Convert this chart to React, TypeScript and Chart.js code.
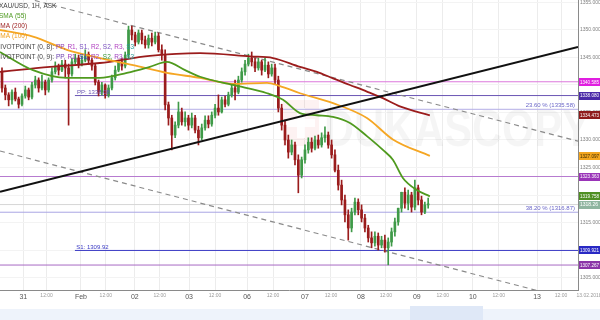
import React, { useEffect, useRef } from "react";
import { Chart, registerables } from "chart.js";

Chart.register(...registerables);

const FONT = '"Liberation Sans", Arial, sans-serif';

// Hourly candles: [open, high, low, close]
const candles: number[][] = [
  [1342.4, 1343.1, 1338.7, 1339.45],
  [1339.45, 1340.0, 1337.3, 1338.2],
  [1338.2, 1338.6, 1336.2, 1337.3],
  [1337.3, 1339.1, 1336.5, 1338.7],
  [1338.7, 1339.45, 1337.1, 1337.45],
  [1337.45, 1337.8, 1335.8, 1336.5],
  [1336.5, 1338.4, 1336.2, 1338.0],
  [1338.0, 1339.8, 1337.6, 1339.1],
  [1339.1, 1339.45, 1337.3, 1337.8],
  [1337.8, 1340.5, 1337.45, 1340.0],
  [1340.0, 1341.6, 1339.45, 1340.9],
  [1340.9, 1341.3, 1338.7, 1339.45],
  [1339.45, 1341.8, 1339.1, 1340.5],
  [1340.5, 1340.9, 1338.2, 1339.1],
  [1339.1, 1341.3, 1338.7, 1340.9],
  [1340.9, 1343.1, 1340.5, 1342.4],
  [1342.4, 1344.2, 1342.0, 1343.45],
  [1343.45, 1343.8, 1341.8, 1342.7],
  [1342.7, 1344.5, 1342.4, 1343.8],
  [1343.8, 1344.5, 1341.3, 1343.1],
  [1343.1, 1343.8, 1332.7, 1342.0],
  [1342.0, 1344.9, 1341.6, 1344.2],
  [1344.2, 1345.6, 1343.8, 1344.9],
  [1344.9, 1345.45, 1343.1, 1343.8],
  [1343.8, 1345.3, 1343.45, 1344.5],
  [1344.5, 1346.4, 1344.2, 1345.6],
  [1345.6, 1346.0, 1343.8, 1344.5],
  [1344.5, 1344.9, 1342.7, 1343.45],
  [1343.45, 1343.8, 1340.0, 1340.5],
  [1340.5, 1340.9, 1338.0, 1338.7],
  [1338.7, 1340.5, 1338.2, 1340.0],
  [1340.0, 1340.2, 1337.6, 1338.2],
  [1338.2, 1340.0, 1337.8, 1339.45],
  [1339.45, 1341.8, 1339.1, 1341.3],
  [1341.3, 1343.45, 1340.9, 1342.7],
  [1342.7, 1344.5, 1342.4, 1344.2],
  [1344.2, 1344.9, 1342.7, 1343.45],
  [1343.45, 1346.0, 1343.1, 1345.45],
  [1345.45, 1350.7, 1344.9, 1350.0],
  [1350.0, 1350.7, 1348.2, 1349.1],
  [1349.1, 1349.6, 1347.1, 1347.8],
  [1347.8, 1350.0, 1347.45, 1349.45],
  [1349.45, 1350.0, 1347.45, 1348.2],
  [1348.2, 1348.9, 1346.7, 1347.3],
  [1347.3, 1349.1, 1346.7, 1348.5],
  [1348.5, 1349.45, 1347.1, 1347.8],
  [1347.8, 1349.6, 1347.45, 1348.9],
  [1348.9, 1349.45, 1346.0, 1346.4],
  [1346.4, 1347.3, 1344.5, 1345.45],
  [1345.45, 1346.4, 1335.45, 1336.4],
  [1336.4, 1336.9, 1332.7, 1334.0],
  [1334.0, 1334.5, 1328.2, 1330.9],
  [1330.9, 1333.3, 1330.4, 1332.7],
  [1332.7, 1336.9, 1332.2, 1335.1],
  [1335.1, 1335.8, 1332.7, 1333.3],
  [1333.3, 1335.1, 1332.5, 1334.0],
  [1334.0, 1334.5, 1331.8, 1332.7],
  [1332.7, 1334.9, 1332.2, 1334.0],
  [1334.0, 1334.5, 1331.3, 1331.8],
  [1331.8, 1332.5, 1329.1, 1330.4],
  [1330.4, 1332.9, 1330.0, 1332.2],
  [1332.2, 1334.4, 1331.8, 1333.6],
  [1333.6, 1334.4, 1332.2, 1332.9],
  [1332.9, 1335.1, 1332.5, 1334.5],
  [1334.5, 1336.5, 1334.0, 1335.8],
  [1335.8, 1338.2, 1334.5, 1335.1],
  [1335.1, 1337.8, 1334.9, 1337.3],
  [1337.3, 1338.0, 1336.0, 1336.5],
  [1336.5, 1338.7, 1336.2, 1338.2],
  [1338.2, 1340.2, 1337.8, 1339.45],
  [1339.45, 1340.9, 1337.3, 1338.7],
  [1338.7, 1341.6, 1338.4, 1340.9],
  [1340.9, 1343.1, 1340.5, 1342.4],
  [1342.4, 1344.5, 1341.8, 1343.8],
  [1343.8, 1345.6, 1343.45, 1344.9],
  [1344.9, 1346.0, 1343.45, 1344.2],
  [1344.2, 1344.9, 1342.4, 1343.1],
  [1343.1, 1344.9, 1342.7, 1344.2],
  [1344.2, 1344.5, 1341.8, 1342.7],
  [1342.7, 1344.9, 1342.4, 1343.6],
  [1343.6, 1344.2, 1341.3, 1342.0],
  [1342.0, 1343.8, 1341.6, 1343.1],
  [1343.1, 1343.8, 1340.2, 1340.9],
  [1340.9, 1341.6, 1335.1, 1335.8],
  [1335.8, 1336.5, 1331.8, 1332.7],
  [1332.7, 1333.6, 1329.1, 1330.0],
  [1330.0, 1330.9, 1326.7, 1327.8],
  [1327.8, 1330.0, 1327.3, 1329.1],
  [1329.1, 1329.6, 1325.45, 1326.4],
  [1326.4, 1327.3, 1320.4, 1323.6],
  [1323.6, 1326.9, 1323.1, 1326.4],
  [1326.4, 1329.1, 1325.8, 1328.2],
  [1328.2, 1330.4, 1327.6, 1329.6],
  [1329.6, 1330.4, 1327.8, 1328.5],
  [1328.5, 1330.7, 1328.2, 1330.0],
  [1330.0, 1330.9, 1328.5, 1329.1],
  [1329.1, 1331.3, 1328.7, 1330.4],
  [1330.4, 1332.4, 1329.6, 1330.9],
  [1330.9, 1331.45, 1328.5, 1329.1],
  [1329.1, 1330.0, 1326.7, 1327.3],
  [1327.3, 1328.2, 1324.2, 1324.5],
  [1324.5, 1325.45, 1320.9, 1321.8],
  [1321.8, 1322.7, 1318.2, 1319.1],
  [1319.1, 1320.0, 1315.1, 1316.4],
  [1316.4, 1317.3, 1311.8, 1314.0],
  [1314.0, 1317.6, 1313.3, 1316.9],
  [1316.9, 1319.45, 1316.4, 1318.7],
  [1318.7, 1319.3, 1316.4, 1317.3],
  [1317.3, 1318.2, 1315.1, 1315.8],
  [1315.8, 1316.5, 1313.3, 1314.0],
  [1314.0, 1314.5, 1311.45, 1312.2],
  [1312.2, 1313.3, 1310.4, 1311.3],
  [1311.3, 1313.3, 1310.7, 1312.5],
  [1312.5, 1313.1, 1310.0, 1310.9],
  [1310.9, 1312.5, 1310.4, 1311.8],
  [1311.8, 1312.7, 1309.6, 1310.4],
  [1310.4, 1312.2, 1307.3, 1311.45],
  [1311.45, 1314.0, 1310.7, 1313.3],
  [1313.3, 1315.8, 1312.5, 1315.1],
  [1315.1, 1317.6, 1314.5, 1317.6],
  [1317.6, 1320.5, 1316.9, 1320.5],
  [1320.5, 1321.3, 1317.6, 1318.5],
  [1318.5, 1320.9, 1317.3, 1320.0],
  [1320.0, 1320.5, 1316.9, 1317.8],
  [1317.8, 1322.7, 1317.3, 1321.3],
  [1321.3, 1321.8, 1318.2, 1319.1],
  [1319.1, 1319.8, 1316.4, 1316.9],
  [1316.9, 1318.7, 1316.6, 1318.2],
  [1318.2, 1319.45, 1317.6, 1318.3],
];

// Moving averages (x = candle index, y = price)
const sma55X = [-0.6, 9.3, 19.5, 29.4, 37.5, 44.4, 49.5, 55, 59.5, 69.4, 79.6, 84.4, 89.5, 94.6, 99.4, 104.5, 109.6, 114.4, 117.4, 120.4, 124.6, 128.5];
const sma55Y = [1346.0, 1342.7, 1341.3, 1341.3, 1342.2, 1343.3, 1344.2, 1342.7, 1341.5, 1340.0, 1338.5, 1337.3, 1334.9, 1334.5, 1334.2, 1333.1, 1330.7, 1328.2, 1326.4, 1323.1, 1320.9, 1319.76];
const sma100X = [-0.6, 9.3, 19.5, 29.4, 39.4, 49.5, 59.5, 69.4, 79.6, 83.5, 89.5, 99.4, 109.6, 117.4, 128.5];
const sma100Y = [1350.0, 1348.8, 1346.4, 1344.9, 1343.6, 1342.2, 1341.3, 1340.2, 1340.4, 1339.8, 1338.5, 1336.7, 1334.0, 1330.1, 1327.1];
const sma200X = [-0.6, 14.4, 29.4, 44.4, 59.5, 74.5, 81.4, 89.5, 94.6, 99.4, 104.5, 109.6, 114.4, 119.5, 128.5];
const sma200Y = [1342.4, 1343.3, 1344.0, 1345.3, 1345.8, 1345.2, 1344.9, 1343.3, 1342.4, 1341.2, 1340.0, 1338.8, 1337.6, 1336.1, 1334.47];

// Trend lines: [x1, y1, x2, y2]
const supportLine = [-0.6, 1320.6, 173, 1346.9];
const channelUpper = [-0.6, 1357.0, 173, 1329.8];
const channelLower = [-0.6, 1328.0, 173, 1300.7];

// Horizontal levels
const levelValues = [1340.585, 1338.08, 1335.58, 1323.363, 1318.26, 1316.87, 1309.92, 1307.267];
const levelStarts = [-0.6, 21.9, -0.6, -0.6, -0.6, -0.6, 21.9, -0.6];
const levelColors = ["#dc78dc", "#6a55b4", "#b4aee6", "#b77bd0", "#d6d6d6", "#aaa6e4", "#3a3ac4", "#a86ac4"];

// Price tags on the right axis
const tagValues = [1340.585, 1338.08, 1334.473, 1327.097, 1323.363, 1319.758, 1318.26, 1309.921, 1307.267];
const tagLabels = ["1340.585", "1338.080", "1334.473", "1327.097", "1323.363", "1319.758", "1318.26", "1309.921", "1307.267"];
const tagColors = ["#e01ee0", "#4a2aa8", "#8e1c1c", "#f2a51f", "#9a34b8", "#4f8f22", "#8fb5a0", "#2828c4", "#8a34a8"];
const tagTextColors = ["#fff", "#fff", "#fff", "#3a2a00", "#fff", "#fff", "#fff", "#fff", "#fff"];

// Axis ticks
const yTickValues = [1305, 1310, 1315, 1320, 1325, 1330, 1335, 1340, 1345, 1350, 1355];
const tickIdx = [6.4, 13.4, 23.7, 31.2, 39.9, 47.4, 56.2, 64.0, 73.6, 81.4, 91.0, 98.8, 107.8, 115.3, 124.6, 132.4, 141.4, 149.2, 160.7, 167.9];
const tickLabels = ["31", "12:00", "Feb", "12:00", "02", "12:00", "03", "12:00", "06", "12:00", "07", "12:00", "08", "12:00", "09", "12:00", "10", "12:00", "13", "12:00"];
const endDateLabel = "13.02.2018";

const X_MIN = -0.6;
const X_MAX = 173;
const Y_MIN = 1302.73;
const Y_MAX = 1355.45;

const legendRows: { parts: [string, string][] }[] = [
  { parts: [["XAU/USD, 1H, ASK", "#444"]] },
  { parts: [["SMA (55)", "#4f9a22"]] },
  { parts: [["SMA (200)", "#9b1c1c"]] },
  { parts: [["SMA (100)", "#f0a020"]] },
  {
    parts: [
      ["PIVOTPOINT (0, 8): ", "#444"], ["PP, ", "#8a3ab0"], ["R1, ", "#b040c0"], ["S1, ", "#7a50c0"],
      ["R2, ", "#b040c0"], ["S2, ", "#7a50c0"], ["R3, ", "#b040c0"], ["S3", "#2a9a9a"],
    ],
  },
  {
    parts: [
      ["PIVOTPOINT (0, 9): ", "#444"], ["PP, ", "#6a40b0"], ["R1, ", "#a040c0"], ["S1, ", "#3a3ac4"],
      ["R2, ", "#a040c0"], ["S2, ", "#3a9a3a"], ["R3, ", "#a040c0"], ["S3", "#2a9a9a"],
    ],
  },
];
const legendOffsets = [-1, -1, -4, -4, -4, -4];

const UP = "#3f9a48";
const DOWN = "#9a1c1c";

function fitText(ctx: CanvasRenderingContext2D, text: string, x: number, y: number, maxW: number) {
  const w = ctx.measureText(text).width;
  if (w <= maxW) {
    ctx.fillText(text, x, y);
    return;
  }
  ctx.save();
  ctx.translate(x, y);
  ctx.scale(maxW / w, 1);
  ctx.fillText(text, 0, 0);
  ctx.restore();
}

const overlayPlugin = {
  id: "overlay",
  beforeDraw(chart: any) {
    const ctx = chart.ctx;
    ctx.save();
    ctx.fillStyle = "#ffffff";
    ctx.fillRect(0, 0, chart.width, chart.height);
    // navigator strip
    ctx.fillStyle = "#eef3fb";
    ctx.fillRect(0, 309, chart.width, 11);
    ctx.fillStyle = "#dfe8f7";
    ctx.fillRect(410, 306, 73, 14);
    ctx.restore();
  },
  beforeDatasetsDraw(chart: any) {
    const ctx = chart.ctx;
    ctx.save();
    // faint watermark logo
    ctx.fillStyle = "rgba(225, 70, 70, 0.07)";
    ctx.fillRect(283, 100, 36, 46);
    ctx.fillStyle = "rgba(255,255,255,0.9)";
    ctx.fillRect(297, 108, 8, 30);
    ctx.fillRect(287, 119, 28, 8);
    ctx.font = `bold 52px ${FONT}`;
    ctx.textBaseline = "alphabetic";
    ctx.textAlign = "left";
    const w = ctx.measureText("DUKASCOPY").width;
    ctx.translate(324, 146);
    ctx.scale(266 / w, 1);
    ctx.fillStyle = "rgba(0,0,0,0.038)";
    ctx.fillText("DUKASCOPY", 0, 0);
    ctx.restore();
  },
  afterDraw(chart: any) {
    const ctx = chart.ctx;
    const ys = chart.scales.y;
    const xs = chart.scales.x;
    const area = chart.chartArea;
    ctx.save();
    // level labels
    ctx.font = `6px ${FONT}`;
    ctx.textBaseline = "bottom";
    ctx.textAlign = "left";
    ctx.fillStyle = "#6a55b4";
    ctx.fillText("PP: 1338.08", xs.getPixelForValue(22.5), ys.getPixelForValue(1338.08) - 0.5);
    ctx.fillStyle = "#3a3ac4";
    ctx.fillText("S1: 1309.92", xs.getPixelForValue(22.3), ys.getPixelForValue(1309.92) - 0.5);
    ctx.textAlign = "right";
    ctx.fillStyle = "#6a66c8";
    ctx.fillText("23.60 % (1335.58)", area.right - 3, ys.getPixelForValue(1335.58) - 0.5);
    ctx.fillText("38.20 % (1316.87)", area.right - 3, ys.getPixelForValue(1316.87) - 0.5);

    // price tags
    ctx.textAlign = "left";
    ctx.textBaseline = "middle";
    ctx.font = `5px ${FONT}`;
    tagValues.forEach((v, i) => {
      const py = ys.getPixelForValue(v);
      ctx.fillStyle = tagColors[i];
      ctx.fillRect(area.right + 1, Math.round(py - 4), chart.width - area.right - 1, 8);
      ctx.fillStyle = tagTextColors[i];
      fitText(ctx, tagLabels[i], area.right + 2, py + 0.5, chart.width - area.right - 3);
    });

    // end date label
    ctx.fillStyle = "#999";
    ctx.font = `5px ${FONT}`;
    ctx.textAlign = "center";
    ctx.fillText(endDateLabel, 589, 296);

    // legend
    ctx.textAlign = "left";
    ctx.textBaseline = "middle";
    ctx.font = `6.5px ${FONT}`;
    legendRows.forEach((row, r) => {
      let x = legendOffsets[r];
      const y = 6 + r * 10.2;
      row.parts.forEach(([t, c]) => {
        ctx.fillStyle = c;
        ctx.fillText(t, x, y);
        x += ctx.measureText(t).width;
      });
    });
    ctx.restore();
  },
};

function lineDs(pts: { x: number; y: number }[], color: string, width: number, order: number, extra: any = {}) {
  return {
    type: "line" as const,
    data: pts,
    borderColor: color,
    backgroundColor: color,
    borderWidth: width,
    pointRadius: 0,
    fill: false,
    order,
    ...extra,
  };
}

export default function App() {
  const ref = useRef<HTMLCanvasElement | null>(null);

  useEffect(() => {
    if (!ref.current) return;
    const colors = candles.map((c) => (c[3] >= c[0] ? UP : DOWN));
    const smaPts = (xs: number[], ys: number[]) => xs.map((x, i) => ({ x, y: ys[i] }));
    const seg = (s: number[]) => [{ x: s[0], y: s[1] }, { x: s[2], y: s[3] }];

    const datasets: any[] = [];
    levelValues.forEach((v, i) => {
      datasets.push(lineDs([{ x: levelStarts[i], y: v }, { x: X_MAX, y: v }], levelColors[i], 1, 20));
    });
    datasets.push(lineDs(seg(channelUpper), "#8a8a8a", 1.2, 15, { borderDash: [5, 4] }));
    datasets.push(lineDs(seg(channelLower), "#8a8a8a", 1.2, 15, { borderDash: [5, 4] }));
    datasets.push({
      type: "bar",
      data: candles.map((c, i) => ({ x: i, y: [c[2], c[1]] })),
      backgroundColor: colors,
      barThickness: 1,
      grouped: false,
      minBarLength: 1,
      order: 10,
    });
    datasets.push({
      type: "bar",
      data: candles.map((c, i) => ({ x: i, y: [c[0], c[3]] })),
      backgroundColor: colors,
      barThickness: 2,
      grouped: false,
      minBarLength: 1,
      order: 9,
    });
    datasets.push(lineDs(smaPts(sma200X, sma200Y), "#9b1c1c", 1.8, 4, { tension: 0.4, cubicInterpolationMode: "monotone" }));
    datasets.push(lineDs(smaPts(sma100X, sma100Y), "#f5a623", 1.8, 3, { tension: 0.4, cubicInterpolationMode: "monotone" }));
    datasets.push(lineDs(smaPts(sma55X, sma55Y), "#4f9a1e", 1.8, 2, { tension: 0.4, cubicInterpolationMode: "monotone" }));
    datasets.push(lineDs(seg(supportLine), "#111111", 2, 1));

    const chart = new Chart(ref.current, {
      type: "bar",
      data: { datasets },
      options: {
        animation: false,
        responsive: false,
        maintainAspectRatio: false,
        events: [],
        layout: { padding: 0 },
        plugins: { legend: { display: false }, tooltip: { enabled: false } },
        scales: {
          x: {
            type: "linear",
            position: "bottom",
            min: X_MIN,
            max: X_MAX,
            offset: false,
            grid: { color: "#ececec", offset: false, drawTicks: false },
            border: { color: "#8a8a8a" },
            ticks: {
              autoSkip: false,
              maxRotation: 0,
              minRotation: 0,
              padding: 3,
              callback: (_v: any, i: number) => tickLabels[i] ?? "",
              font: (c: any) => ({ family: FONT, size: tickLabels[c.index] === "12:00" ? 5 : 7 }),
              color: (c: any) => (tickLabels[c.index] === "12:00" ? "#9a9a9a" : "#555"),
            },
            afterBuildTicks: (s: any) => {
              s.ticks = tickIdx.map((v) => ({ value: v }));
            },
            afterFit: (s: any) => {
              s.height = 30;
              s.paddingLeft = 0;
              s.paddingRight = 0;
            },
          },
          y: {
            type: "linear",
            position: "right",
            min: Y_MIN,
            max: Y_MAX,
            grid: { color: "#f3f3f3", drawTicks: false },
            border: { color: "#8a8a8a" },
            ticks: {
              padding: 2,
              color: "#808080",
              font: { family: FONT, size: 5 },
              callback: (v: any) => Number(v).toFixed(3),
            },
            afterBuildTicks: (s: any) => {
              s.ticks = yTickValues.map((v) => ({ value: v }));
            },
            afterFit: (s: any) => {
              s.width = 22;
              s.paddingTop = 0;
              s.paddingBottom = 0;
            },
          },
        },
      } as any,
      plugins: [overlayPlugin],
    });
    return () => chart.destroy();
  }, []);

  return (
    <div style={{ position: "fixed", left: 0, top: 0, width: 600, height: 320 }}>
      <canvas ref={ref} width={600} height={320} style={{ width: 600, height: 320, display: "block" }} />
    </div>
  );
}
